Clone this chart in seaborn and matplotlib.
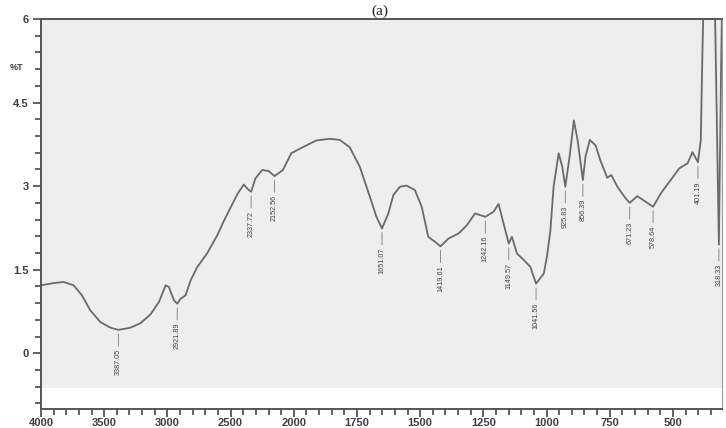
import numpy as np
import pandas as pd
import matplotlib
matplotlib.use("Agg")
import matplotlib.pyplot as plt
import seaborn as sns

# FTIR spectrum: wavenumber (cm-1) and transmittance (%T)
wavenumber = [4000, 3900, 3821, 3742, 3676, 3610, 3530, 3451, 3387.05, 3292,
              3213, 3133, 3067, 3014, 2988, 2948, 2921.89, 2895, 2856, 2816,
              2763, 2684, 2605, 2552, 2510, 2443, 2395, 2370, 2337.72, 2303,
              2250, 2198, 2152.56, 2086, 2020, 1964, 1911, 1858, 1818, 1779,
              1739, 1699, 1673, 1651.07, 1626, 1606, 1580, 1554, 1521, 1494,
              1468, 1441, 1419.61, 1388, 1348, 1315, 1283, 1242.16, 1210, 1190,
              1177, 1149.57, 1137, 1117, 1091, 1064, 1041.56, 1011, 998, 985,
              972, 952, 938, 925.83, 909, 892, 877, 856.39, 846, 829,
              806, 787, 760, 744, 720, 687, 671.23, 641, 608, 578.64,
              548, 509, 475, 442, 423, 401.19, 390, 383, 370, 350,
              335, 318.33, 310, 300]
transmittance = [1.22, 1.26, 1.28, 1.22, 1.04, 0.77, 0.56, 0.46, 0.42, 0.46,
                 0.54, 0.70, 0.92, 1.22, 1.19, 0.95, 0.89, 0.98, 1.04, 1.31,
                 1.55, 1.80, 2.12, 2.38, 2.57, 2.87, 3.03, 2.96, 2.90, 3.14,
                 3.29, 3.27, 3.18, 3.29, 3.59, 3.70, 3.82, 3.85, 3.83, 3.70,
                 3.35, 2.81, 2.45, 2.24, 2.51, 2.84, 2.99, 3.01, 2.93, 2.63,
                 2.09, 2.00, 1.92, 2.06, 2.15, 2.30, 2.51, 2.45, 2.54, 2.68,
                 2.45, 1.97, 2.09, 1.79, 1.68, 1.55, 1.25, 1.43, 1.75, 2.20,
                 3.00, 3.59, 3.35, 2.99, 3.53, 4.18, 3.82, 3.11, 3.53, 3.83,
                 3.73, 3.46, 3.15, 3.20, 2.99, 2.78, 2.70, 2.82, 2.72, 2.63,
                 2.87, 3.11, 3.32, 3.41, 3.61, 3.43, 3.82, 5.50, 8.00, 8.00,
                 6.50, 1.95, 5.00, 8.00]

# Labelled band positions
peak_wn = [3387.05, 2921.89, 2337.72, 2152.56, 1651.07, 1419.61, 1242.16,
           1149.57, 1041.56, 925.83, 856.39, 671.23, 578.64, 401.19, 318.33]
peak_text = ["3387.05", "2921.89", "2337.72", "2152.56", "1651.07", "1419.61",
             "1242.16", "1149.57", "1041.56", "925.83", "856.39", "671.23",
             "578.64", "401.19", "318.33"]

x_major = [4000, 3500, 3000, 2500, 2000, 1750, 1500, 1250, 1000, 750, 500]
y_major = [0, 1.5, 3, 4.5, 6]
y_labels = ["0", "1.5", "3", "4.5", "6"]

df = pd.DataFrame({"wavenumber": wavenumber, "T": transmittance})

# Wavenumber axis with doubled scale below 2000 cm-1
def fwd(x):
    x = np.asarray(x, dtype=float)
    return np.where(x >= 2000, x, 2 * x - 2000)

def inv(u):
    u = np.asarray(u, dtype=float)
    return np.where(u >= 2000, u, (u + 2000) / 2)

ink = "#3c3f48"
fig = plt.figure(figsize=(7.26, 4.28), dpi=100)
ax = fig.add_axes([41 / 726, 1 - 409 / 428, 681 / 726, 390 / 428])
ax.set_facecolor("#eeeeee")

ax.set_xscale("function", functions=(fwd, inv))
sns.lineplot(data=df, x="wavenumber", y="T", sort=False, ax=ax,
             color="#6a6a6a", linewidth=1.3)
ax.set_xlim(4000, 306)
ax.set_ylim(-1.0, 6.0)

# blank strip along the bottom of the chart area
ax.axhspan(-1.0, -0.63, color="white", zorder=0.5, linewidth=0)

ax.set_xticks(x_major)
ax.set_xticklabels([str(v) for v in x_major])
minor_x = [v for v in range(3900, 2000, -100) if v not in x_major] + \
          [v for v in range(1950, 300, -50) if v not in x_major]
ax.set_xticks(minor_x, minor=True)
ax.set_yticks(y_major)
ax.set_yticklabels(y_labels)
ax.set_yticks([round(v, 1) for v in np.arange(-0.9, 6.0, 0.3)
               if min(abs(v - m) for m in y_major) > 0.05], minor=True)

ax.set_xlabel("")
ax.set_ylabel("")
for side in ["left", "bottom", "top"]:
    ax.spines[side].set_color("#555555")
    ax.spines[side].set_linewidth(1.4)
ax.spines["right"].set_color("#9a9a9a")
ax.spines["right"].set_linewidth(0.8)

ax.tick_params(axis="both", which="major", direction="out", length=6,
               width=1.3, color="#555555", labelcolor=ink, labelsize=8)
ax.tick_params(axis="both", which="minor", direction="out", length=4.5,
               width=1.3, color="#555555")
ax.tick_params(axis="x", which="major", pad=0.5)
ax.tick_params(axis="y", which="major", pad=3)
ax.tick_params(right=False, top=False, which="both")
for lbl in ax.get_xticklabels() + ax.get_yticklabels():
    lbl.set_family("Liberation Sans")
    lbl.set_fontweight("bold")

ax.text(-0.036, 0.875, "%T", transform=ax.transAxes, ha="center", va="center",
        fontsize=6.5, fontweight="bold", color=ink, family="Liberation Sans")

# band labels hanging below each minimum
wn_sorted = np.array(wavenumber)[::-1]
t_sorted = np.array(transmittance)[::-1]
for wn, txt in zip(peak_wn, peak_text):
    yv = float(np.interp(wn, wn_sorted, t_sorted))
    ax.annotate(txt, xy=(wn, yv), xytext=(0, -19), textcoords="offset pixels",
                rotation=90, ha="center", va="top", fontsize=5.2,
                color="#444444", family="Liberation Sans",
                arrowprops=dict(arrowstyle="-", color="#8a8a8a", lw=0.7,
                                shrinkA=0, shrinkB=3))

fig.text(0.523, 1 - 18.5 / 428, "(a)", ha="center", va="bottom", fontsize=11,
         family="Liberation Serif", color="#222222")

fig.savefig("out.png", dpi=100)
